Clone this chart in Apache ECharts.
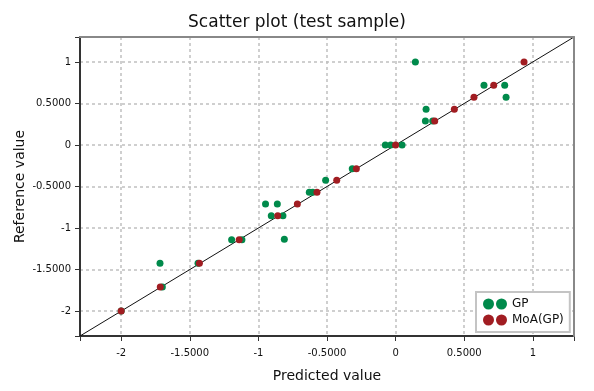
<!DOCTYPE html>
<html>
<head>
<meta charset="utf-8">
<script src="https://cdn.jsdelivr.net/npm/echarts@6/dist/echarts.min.js"></script>
<style>html,body{margin:0;padding:0;background:#fff}#c{width:594px;height:391px}</style>
</head>
<body>
<div id="c"></div>
<script>
// ---- data ----
const axisMin = -2.3;
const axisMax = 1.3;
const tickValues = [-2, -1.5, -1, -0.5, 0, 0.5, 1];
const tickMarks = [-2.3, -2, -1.5, -1, -0.5, 0, 0.5, 1, 1.3];

const gpPredicted = [-2.0, -1.717, -1.70, -1.44, -1.195, -1.12, -0.811, -0.948, -0.862, -0.906, -0.821, -0.629, -0.604, -0.51, -0.316, -0.075, -0.036, 0.047, 0.217, 0.27, 0.222, 0.144, 0.644, 0.795, 0.805];
const gpReference = [-2.0, -1.424, -1.71, -1.424, -1.14, -1.14, -1.135, -0.711, -0.711, -0.851, -0.851, -0.570, -0.570, -0.425, -0.285, 0, 0, 0, 0.289, 0.289, 0.429, 1.0, 0.718, 0.718, 0.574];

const moaPredicted = [-2.0, -1.715, -1.43, -1.14, -0.859, -0.716, -0.573, -0.429, -0.286, 0, 0.285, 0.428, 0.571, 0.715, 0.936];
const moaReference = [-2.0, -1.71, -1.424, -1.14, -0.851, -0.711, -0.570, -0.425, -0.285, 0, 0.289, 0.429, 0.574, 0.718, 1.0];

// ---- chart ----
const zip = (a, b) => a.map((v, i) => [v, b[i]]);
const fmt = v => Number.isInteger(v) ? String(v) : v.toFixed(4);
const FONT = 'DejaVu Sans';
const twoDots = 'path://M5.5,0A5.5,5.5,0,1,1,5.5,11A5.5,5.5,0,1,1,5.5,0Z M18.5,0A5.5,5.5,0,1,1,18.5,11A5.5,5.5,0,1,1,18.5,0Z';

function axis(name, isY) {
  return {
    type: 'value',
    min: axisMin,
    max: axisMax,
    name: name,
    nameLocation: 'middle',
    nameGap: isY ? 53 : 33,
    nameMoveOverlap: false,
    nameTextStyle: { fontFamily: FONT, fontSize: 14, color: '#111' },
    axisLine: { show: true, onZero: false, lineStyle: { color: '#333', width: 2 } },
    axisTick: { show: true, inside: false, length: 5, customValues: tickMarks, lineStyle: { color: '#333', width: 1 } },
    axisLabel: { customValues: tickValues, formatter: fmt, fontFamily: FONT, fontSize: 10, color: '#111', margin: isY ? 9 : 12 },
    splitLine: { show: true, lineStyle: { color: '#c0c0c0', width: 1.5, type: [3, 3] } }
  };
}
function borderAxis(pos) {
  return {
    type: 'value',
    min: axisMin,
    max: axisMax,
    position: pos,
    axisLine: { show: true, onZero: false, lineStyle: { color: '#888', width: 2 } },
    axisTick: { show: false },
    axisLabel: { show: false },
    splitLine: { show: false },
    z: 10
  };
}

const chart = echarts.init(document.getElementById('c'), null, { renderer: 'canvas' });
chart.setOption({
  animation: false,
  backgroundColor: '#fff',
  title: {
    text: 'Scatter plot (test sample)',
    left: 'center',
    top: 9,
    textStyle: { fontFamily: FONT, fontSize: 17, fontWeight: 'normal', color: '#111' }
  },
  grid: { left: 80, right: 20, top: 37, bottom: 55, show: true, borderWidth: 0, backgroundColor: '#fff' },
  xAxis: [axis('Predicted value', false), borderAxis('top')],
  yAxis: [axis('Reference value', true), borderAxis('right')],
  legend: {
    orient: 'vertical',
    left: 476,
    top: 292,
    padding: [6, 6, 6, 7],
    itemGap: 4,
    itemWidth: 24,
    itemHeight: 11,
    backgroundColor: '#fff',
    borderColor: '#c4c4c4',
    borderWidth: 2,
    textStyle: { fontFamily: FONT, fontSize: 12, color: '#111' },
    data: [{ name: 'GP', icon: twoDots }, { name: 'MoA(GP)', icon: twoDots }]
  },
  series: [
    {
      type: 'line',
      data: [[axisMin, axisMin], [axisMax, axisMax]],
      symbol: 'none',
      lineStyle: { color: '#111', width: 1 },
      silent: true,
      z: 1
    },
    {
      name: 'GP',
      type: 'scatter',
      data: zip(gpPredicted, gpReference),
      symbol: 'circle',
      symbolSize: 7,
      itemStyle: { color: '#008a4b', opacity: 1 },
      z: 2
    },
    {
      name: 'MoA(GP)',
      type: 'scatter',
      data: zip(moaPredicted, moaReference),
      symbol: 'circle',
      symbolSize: 7,
      itemStyle: { color: '#a11d22', opacity: 1 },
      z: 3
    }
  ]
});
</script>
</body>
</html>
